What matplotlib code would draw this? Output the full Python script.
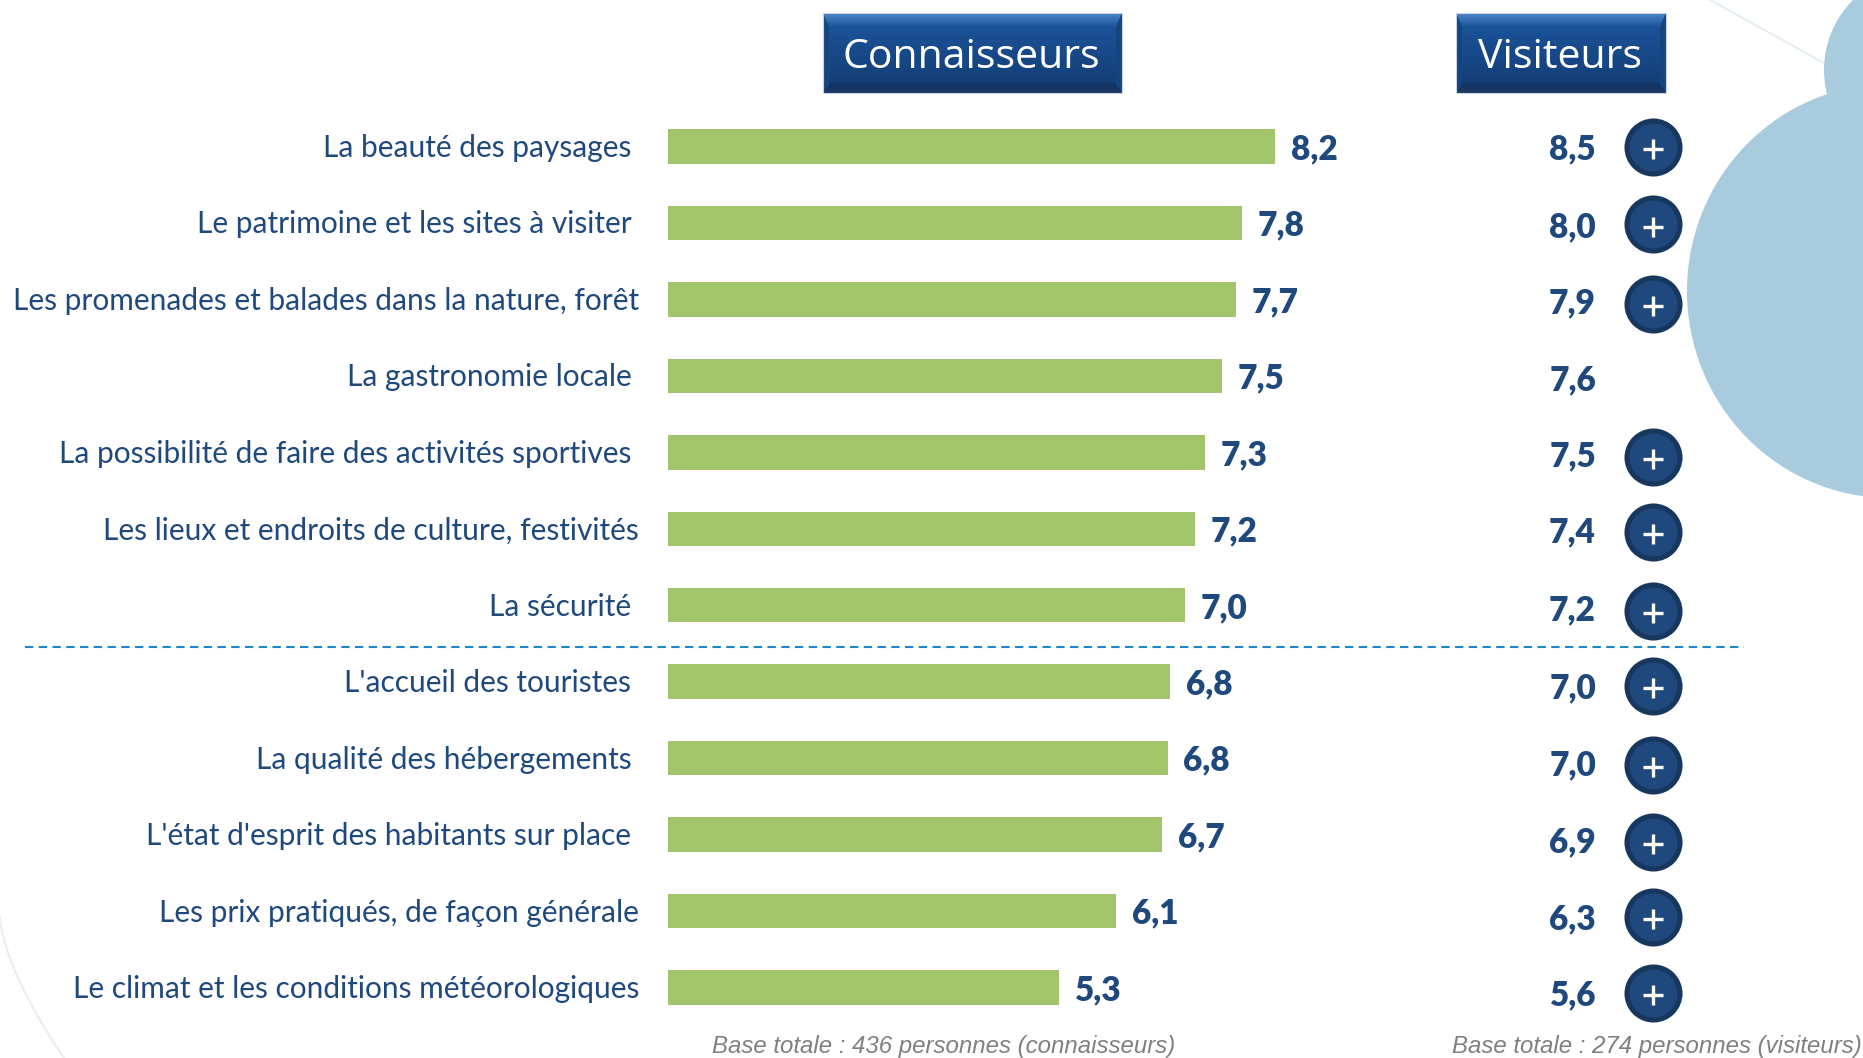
import matplotlib

matplotlib.use('Agg')
import matplotlib.pyplot as plt
import numpy as np
from matplotlib.colors import LinearSegmentedColormap
from matplotlib.patches import Circle, Ellipse, Polygon, Rectangle

W, H = 1863, 1058

categories = ["La beauté des paysages ", "Le patrimoine et les sites à visiter ",
              "Les promenades et balades dans la nature, forêt", "La gastronomie locale ",
              "La possibilité de faire des activités sportives ", "Les lieux et endroits de culture, festivités",
              "La sécurité ", "L'accueil des touristes ", "La qualité des hébergements ",
              "L'état d'esprit des habitants sur place ", "Les prix pratiqués, de façon générale",
              "Le climat et les conditions météorologiques"]
# bar lengths, labels as printed
connaisseurs = [8.2, 7.75, 7.67, 7.48, 7.25, 7.12, 6.98, 6.79, 6.75, 6.67, 6.06, 5.28]
conn_labels = ['8,2', '7,8', '7,7', '7,5', '7,3', '7,2', '7,0', '6,8', '6,8', '6,7', '6,1', '5,3']
visit_labels = ['8,5', '8,0', '7,9', '7,6', '7,5', '7,4', '7,2', '7,0', '7,0', '6,9', '6,3', '5,6']
has_plus = [1, 1, 1, 0, 1, 1, 1, 1, 1, 1, 1, 1]

BLUE = '#1f497d'
DARK = '#17375e'
GREEN = '#a2c56b'
PALE = '#a8cbde'
FONT = 'Lato'

fig = plt.figure(figsize=(W / 100, H / 100), dpi=100, facecolor='white')

# background layer in pixel coordinates
bg = fig.add_axes([0, 0, 1, 1])
bg.axis('off')

# thin pale curves in the corners
t = np.linspace(0, 1, 40)
bg.plot(1710 + 114 * t, 63 * t, color='#e3eef5', lw=1.4, zorder=1)
bg.plot(64 * t ** 1.5, 917 + 141 * t, color='#e3eef5', lw=1.4, zorder=1)

bg.add_patch(Ellipse((1890, 291), 406, 414, color=PALE, lw=0, zorder=2))
bg.add_patch(Circle((1923, 70), 99, color=PALE, lw=0, zorder=2))

header_cmap = LinearSegmentedColormap.from_list(
    'header', [(0, '#4a84c8'), (0.17, '#1b5398'), (0.86, '#143f78'), (0.9, '#123462'), (1, '#1c3a63')])


def header(x0, x1, y0, y1, text):
    grad = np.linspace(0, 1, 80).reshape(-1, 1)
    bg.imshow(grad, extent=(x0, x1, y1, y0), aspect='auto', zorder=3, cmap=header_cmap)
    # slanted side bevels
    bg.add_patch(Polygon([(x0, y0), (x0 + 6, y0 + 14), (x0 + 6, y1 - 8), (x0, y1)],
                         color='#15457f', lw=0, zorder=4))
    bg.add_patch(Polygon([(x1, y0), (x1 - 6, y0 + 14), (x1 - 6, y1 - 8), (x1, y1)],
                         color='#15457f', lw=0, zorder=4))
    bg.add_patch(Rectangle((x0, y0), x1 - x0, y1 - y0, fill=False, ec='#c8d4e6', lw=0.8, zorder=5))
    bg.text((x0 + x1) / 2 - 1, (y0 + y1) / 2 + 5, text, color='white', family='Open Sans', fontsize=29.5,
            ha='center', va='center', zorder=6)


header(823, 1122, 13, 93, 'Connaisseurs')
header(1456, 1666, 13, 93, 'Visiteurs')
bg.set_xlim(0, W)
bg.set_ylim(H, 0)

bg.plot([25, 1744], [647, 647], color='#1f87c8', lw=1.5, dashes=(4, 2.6), zorder=3)

bg.text(712, 1047, 'Base totale : 436 personnes (connaisseurs)', color='#808080', style='italic',
        family='Liberation Sans', fontsize=17.3, va='center', ha='left')
bg.text(1452, 1047, 'Base totale : 274 personnes (visiteurs)', color='#808080', style='italic',
        family='Liberation Sans', fontsize=17.3, va='center', ha='left')

# chart layer: one row per category, 74 px per unit
step = 76.45
top = 146.5 - step / 2
bottom = 987.5 + step / 2
left = 668
ax = fig.add_axes([left / W, 1 - bottom / H, (W - left) / W, (bottom - top) / H])
ax.patch.set_alpha(0)
ax.set_xlim(0, (W - left) / 74)
ax.set_ylim(len(categories) - 0.5, -0.5)
ax.axis('off')

rows = np.arange(len(categories))
ax.barh(rows, connaisseurs, height=34.5 / step, color=GREEN)

x_label = -29 / 74
x_visit = (1596 - left) / 74
x_plus = (1653 - left) / 74
# the right column drifts slightly downwards, offsets in px
plus_dy = [0, 1.5, 4.6, 0, 4.7, 3.3, 5.8, 4.4, 7, 7.5, 6, 5.5]
visit_dy = [3, 4, 4, 4, 4, 4, 5.5, 6.5, 7.5, 8, 8, 8]

for i in rows:
    ax.text(x_label, i + 0.02, categories[i], color=BLUE, family=FONT, fontsize=21.5, ha='right', va='center')
    ax.annotate(conn_labels[i], (connaisseurs[i], i + 0.035), xytext=(11.5, 0), textcoords='offset points',
                color=BLUE, family=FONT, weight='heavy', fontsize=24, ha='left', va='center')
    ax.text(x_visit, i + visit_dy[i] / step, visit_labels[i], color=BLUE, family=FONT, weight='heavy', fontsize=24,
            ha='right', va='center')
    if has_plus[i]:
        yp = i + plus_dy[i] / step
        ax.scatter(x_plus, yp, s=1747, color=DARK, lw=0, zorder=5)
        ax.scatter(x_plus, yp, s=1195, color=BLUE, lw=0, zorder=6)
        ax.scatter(x_plus, yp + 0.03, s=228, marker='+', color='white', lw=2.4, zorder=7)

fig.savefig('out.png', dpi=100)
